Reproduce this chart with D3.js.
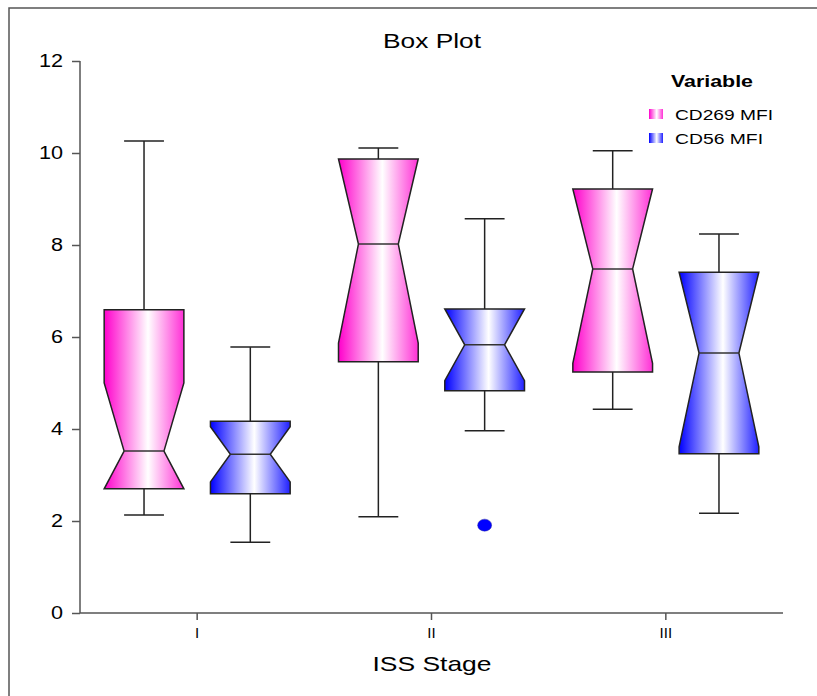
<!DOCTYPE html>
<html><head><meta charset="utf-8">
<script src="https://cdn.jsdelivr.net/npm/d3@7"></script>
<style>body{margin:0;background:#fff}svg{display:block}text{font-family:"Liberation Sans",Arial,sans-serif}</style>
</head><body>
<svg id="c" width="817" height="696"></svg>
<script>
const categories = ["I", "II", "III"];
const seriesNames = ["CD269 MFI", "CD56 MFI"];
const yTicks = [0, 2, 4, 6, 8, 10, 12];
// per series, per category: [whiskerLow, Q1, notchLow, median, notchHigh, Q3, whiskerHigh]
const cd269 = [
  [2.13, 2.70, 2.05, 3.52, 5.00, 6.59, 10.26],
  [2.09, 5.46, 5.87, 8.02, 10.17, 9.87, 10.11],
  [4.43, 5.24, 5.43, 7.48, 9.53, 9.22, 10.05]
];
const cd56 = [
  [1.54, 2.59, 2.85, 3.45, 4.05, 4.17, 5.78],
  [3.96, 4.83, 5.05, 5.83, 6.61, 6.61, 8.57],
  [2.17, 3.46, 3.61, 5.65, 7.69, 7.41, 8.24]
];
const outliers = [{series: 1, cat: "II", value: 1.91}];

const svg = d3.select("#c");
const L = 80, R = 783, T = 61, B = 613;
const x = d3.scaleBand().domain(categories).range([L, R]).padding(0);
const sub = d3.scaleBand().domain(seriesNames).range([-93, 93]).paddingInner(0.25).paddingOuter(0);
const y = d3.scaleLinear().domain([0, 12]).range([B, T]);

function stretch(sel, k) {
  sel.each(function() {
    const w = this.getComputedTextLength();
    d3.select(this).attr("textLength", w * k).attr("lengthAdjust", "spacingAndGlyphs");
  });
}

// frame
svg.append("rect").attr("x", 9).attr("y", 8).attr("width", 830).attr("height", 720)
  .attr("fill", "none").attr("stroke", "#555").attr("stroke-width", 1.5);

const defs = svg.append("defs");
function grad(id, c1, c2) {
  const g = defs.append("linearGradient").attr("id", id).attr("x1", "0%").attr("x2", "100%").attr("y1", "0%").attr("y2", "0%");
  g.append("stop").attr("offset", "0%").attr("stop-color", c1);
  g.append("stop").attr("offset", "55%").attr("stop-color", "#ffffff");
  g.append("stop").attr("offset", "100%").attr("stop-color", c2);
}
grad("gPink", "#ff00cc", "#ff30d6");
grad("gBlue", "#0000ff", "#2020ff");
const fills = ["url(#gPink)", "url(#gBlue)"];
const dataSets = [cd269, cd56];

// title
svg.append("text").attr("x", 432).attr("y", 48).attr("text-anchor", "middle")
  .attr("font-size", 21).attr("textLength", 98).attr("lengthAdjust", "spacingAndGlyphs").text("Box Plot");

// y axis
const yAxis = svg.append("g").attr("transform", `translate(${L},0)`)
  .call(d3.axisLeft(y).tickValues(yTicks).tickSize(8).tickPadding(9).tickFormat(d3.format("d")));
yAxis.select(".domain").attr("stroke", "#555").attr("stroke-width", 1.5).attr("d", `M0,${T}H0V${B}`);
yAxis.selectAll(".tick line").attr("stroke", "#555").attr("stroke-width", 1.5);
yAxis.selectAll(".tick text").attr("font-size", 18).attr("fill", "#000").attr("font-family", "Liberation Sans, Arial");
stretch(yAxis.selectAll(".tick text"), 1.2);

// x axis
const xAxis = svg.append("g").attr("transform", `translate(0,${B})`)
  .call(d3.axisBottom(x).tickSize(7).tickPadding(7));
xAxis.select(".domain").attr("stroke", "#555").attr("stroke-width", 1.5).attr("d", `M${L},0H${R}`);
xAxis.selectAll(".tick line").attr("stroke", "#555").attr("stroke-width", 1.5);
xAxis.selectAll(".tick text").attr("font-size", 15).attr("fill", "#000").attr("font-family", "Liberation Sans, Arial");

svg.append("text").attr("x", 432).attr("y", 671).attr("text-anchor", "middle")
  .attr("font-size", 21).attr("textLength", 119).attr("lengthAdjust", "spacingAndGlyphs").text("ISS Stage");

// boxes
const bw = sub.bandwidth();
dataSets.forEach((ds, si) => {
  ds.forEach((d, ci) => {
    const [wl, q1, nl, med, nh, q3, wh] = d;
    const cx = x(categories[ci]) + x.bandwidth() / 2 + sub(seriesNames[si]) + bw / 2;
    const g = svg.append("g");
    g.append("line").attr("x1", cx).attr("x2", cx).attr("y1", y(q3)).attr("y2", y(wh)).attr("stroke", "#222").attr("stroke-width", 1.5);
    g.append("line").attr("x1", cx).attr("x2", cx).attr("y1", y(q1)).attr("y2", y(wl)).attr("stroke", "#222").attr("stroke-width", 1.5);
    g.append("line").attr("x1", cx - bw / 4).attr("x2", cx + bw / 4).attr("y1", y(wh)).attr("y2", y(wh)).attr("stroke", "#222").attr("stroke-width", 1.5);
    g.append("line").attr("x1", cx - bw / 4).attr("x2", cx + bw / 4).attr("y1", y(wl)).attr("y2", y(wl)).attr("stroke", "#222").attr("stroke-width", 1.5);
    const h = bw / 2, n = bw / 4;
    const nH = Math.min(nh, q3), nL = Math.max(nl, q1);
    const pts = [
      [cx - h, y(q3)], [cx + h, y(q3)], [cx + h, y(nH)], [cx + n, y(med)], [cx + h, y(nL)],
      [cx + h, y(q1)], [cx - h, y(q1)], [cx - h, y(nL)], [cx - n, y(med)], [cx - h, y(nH)]
    ];
    g.append("path").attr("d", d3.line()(pts) + "Z").attr("fill", fills[si])
      .attr("stroke", "#222").attr("stroke-width", 1.5).attr("stroke-linejoin", "miter");
    g.append("line").attr("x1", cx - n).attr("x2", cx + n).attr("y1", y(med)).attr("y2", y(med)).attr("stroke", "#333").attr("stroke-width", 1.5);
  });
});

// outliers
outliers.forEach(o => {
  const cx = x(o.cat) + x.bandwidth() / 2 + sub(seriesNames[o.series]) + bw / 2;
  svg.append("ellipse").attr("cx", cx).attr("cy", y(o.value)).attr("rx", 7).attr("ry", 6)
    .attr("fill", "#0000ff").attr("stroke", "#3030a0").attr("stroke-width", 0.5);
});

// legend
svg.append("text").attr("x", 712).attr("y", 87).attr("text-anchor", "middle")
  .attr("font-size", 16).attr("font-weight", "bold")
  .attr("textLength", 82).attr("lengthAdjust", "spacingAndGlyphs").text("Variable");
const legendW = [98, 88];
seriesNames.forEach((s, i) => {
  const yy = 114 + i * 24;
  svg.append("rect").attr("x", 649).attr("y", yy - 5).attr("width", 14).attr("height", 10).attr("fill", fills[i]);
  svg.append("text").attr("x", 675).attr("y", yy + 6).attr("font-size", 15)
    .attr("textLength", legendW[i]).attr("lengthAdjust", "spacingAndGlyphs").text(s);
});
</script>
</body></html>
